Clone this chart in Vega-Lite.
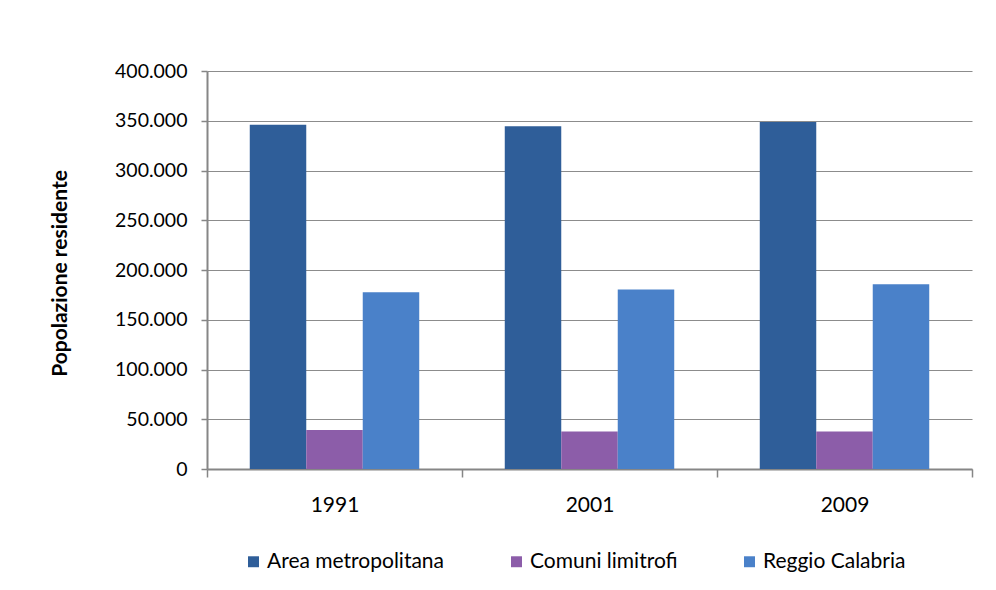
{
  "$schema": "https://vega.github.io/schema/vega-lite/v6.json",
  "autosize": {"type": "none"},
  "width": 765,
  "height": 398,
  "padding": {"left": 207, "top": 71, "right": 24, "bottom": 121},
  "background": "white",
  "data": {
    "values": [
      {"anno": "1991", "serie": "Area metropolitana", "popolazione": 346000},
      {"anno": "1991", "serie": "Comuni limitrofi", "popolazione": 39200},
      {"anno": "1991", "serie": "Reggio Calabria", "popolazione": 177580},
      {"anno": "2001", "serie": "Area metropolitana", "popolazione": 344400},
      {"anno": "2001", "serie": "Comuni limitrofi", "popolazione": 37600},
      {"anno": "2001", "serie": "Reggio Calabria", "popolazione": 180353},
      {"anno": "2009", "serie": "Area metropolitana", "popolazione": 348700},
      {"anno": "2009", "serie": "Comuni limitrofi", "popolazione": 37600},
      {"anno": "2009", "serie": "Reggio Calabria", "popolazione": 185577}
    ]
  },
  "mark": {"type": "bar"},
  "encoding": {
    "x": {
      "field": "anno",
      "type": "nominal",
      "scale": {"paddingInner": 0, "paddingOuter": 0},
      "axis": {
        "title": null,
        "labelAngle": 0,
        "labelFont": "Lato",
        "labelFontSize": 21,
        "labelColor": "#000000",
        "labelPadding": 17,
        "tickBand": "extent",
        "tickSize": 8,
        "tickColor": "#868686",
        "tickWidth": 1.5,
        "domainColor": "#868686",
        "domainWidth": 2,
        "grid": false
      }
    },
    "xOffset": {
      "field": "serie",
      "type": "nominal",
      "sort": ["Area metropolitana", "Comuni limitrofi", "Reggio Calabria"],
      "scale": {"paddingInner": 0, "paddingOuter": 0.757}
    },
    "y": {
      "field": "popolazione",
      "type": "quantitative",
      "scale": {"domain": [0, 400000], "nice": false},
      "axis": {
        "title": "Popolazione residente",
        "titleFont": "Lato",
        "titleFontSize": 21,
        "titleFontWeight": "bold",
        "titleColor": "#000000",
        "titleX": -147,
        "titleY": 202,
        "titleAlign": "center",
        "titleBaseline": "middle",
        "titleAngle": -90,
        "values": [0, 50000, 100000, 150000, 200000, 250000, 300000, 350000, 400000],
        "labelExpr": "replace(format(datum.value, ','), /,/g, '.')",
        "labelFont": "Lato",
        "labelFontSize": 19.5,
        "labelColor": "#000000",
        "labelPadding": 14,
        "tickSize": 6,
        "tickColor": "#868686",
        "tickWidth": 1.5,
        "domainColor": "#868686",
        "domainWidth": 2,
        "grid": true,
        "gridColor": "#8c8c8c",
        "gridWidth": 1.2
      }
    },
    "color": {
      "field": "serie",
      "type": "nominal",
      "sort": ["Area metropolitana", "Comuni limitrofi", "Reggio Calabria"],
      "scale": {
        "domain": ["Area metropolitana", "Comuni limitrofi", "Reggio Calabria"],
        "range": ["#2f5e99", "#8c5da9", "#4a81c9"]
      },
      "legend": {
        "title": null,
        "orient": "none",
        "direction": "horizontal",
        "legendX": 36,
        "legendY": 480,
        "padding": 0,
        "symbolType": "square",
        "symbolSize": 120,
        "symbolStrokeWidth": 0,
        "labelFont": "Lato",
        "labelFontSize": 21,
        "labelColor": "#000000",
        "labelOffset": 3,
        "labelLimit": 0,
        "columnPadding": 61
      }
    }
  },
  "config": {
    "view": {"stroke": null}
  }
}
